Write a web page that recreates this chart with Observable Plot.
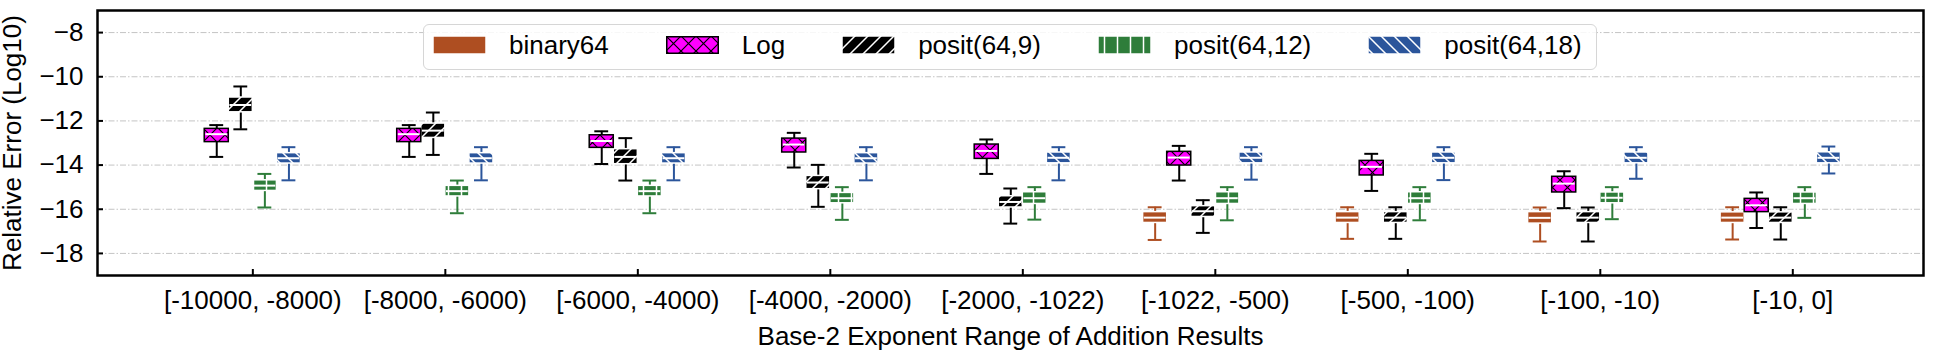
<!DOCTYPE html>
<html><head><meta charset="utf-8">
<script src="https://cdn.jsdelivr.net/npm/d3@7"></script>
<script src="https://cdn.jsdelivr.net/npm/@observablehq/plot@0.6"></script>
<style>
body{margin:0;background:#fff;font-family:"Liberation Sans",Arial,sans-serif}
#wrap{position:relative;width:1943px;height:353px}
#legend{position:absolute;left:423px;top:24px;width:1174px;height:46px;box-sizing:border-box;border:1px solid #d6d6d6;border-radius:6px;background:rgba(255,255,255,0.85);display:flex;align-items:flex-start;padding-left:9px}
.item{display:flex;align-items:flex-start;margin-right:57px}
.item svg{margin-top:11px;margin-right:23px}
.item span{font-size:26px;line-height:26px;margin-top:7px;color:#000;white-space:nowrap}
</style></head>
<body>
<svg width="0" height="0" style="position:absolute"><defs>
<pattern id="h-log" patternUnits="userSpaceOnUse" width="15" height="15"><rect width="15" height="15" fill="#ff00ff"/><path d="M0,0L15,15M15,0L0,15" stroke="#000" stroke-width="1.2"/></pattern>
<pattern id="h-p9" patternUnits="userSpaceOnUse" width="13" height="13"><rect width="13" height="13" fill="#000"/><path d="M-1,1L1,-1M0,13L13,0M12,14L14,12" stroke="#fff" stroke-width="1.5"/></pattern>
<pattern id="h-p12" patternUnits="userSpaceOnUse" width="13" height="13"><rect width="13" height="13" fill="#2e7d3a"/><path d="M6.5,0V13" stroke="#fff" stroke-width="1.5"/></pattern>
<pattern id="h-p18" patternUnits="userSpaceOnUse" width="13" height="13"><rect width="13" height="13" fill="#2b559b"/><path d="M-1,12L1,14M0,0L13,13M12,-1L14,1" stroke="#fff" stroke-width="1.5"/></pattern>
</defs></svg>
<div id="wrap"></div>
<script>
// ---- data ----
const categories = ["[-10000, -8000)", "[-8000, -6000)", "[-6000, -4000)", "[-4000, -2000)", "[-2000, -1022)", "[-1022, -500)", "[-500, -100)", "[-100, -10)", "[-10, 0]"];
const yTicks = [-18, -16, -14, -12, -10, -8];
const seriesNames = ["binary64", "Log", "posit(64,9)", "posit(64,12)", "posit(64,18)"];
// each entry: [lower whisker, Q1, median, Q3, upper whisker]
const binary64Stats = [null, null, null, null, null,
  [-17.39, -16.62, -16.38, -16.13, -15.91],
  [-17.34, -16.62, -16.38, -16.13, -15.91],
  [-17.46, -16.65, -16.39, -16.13, -15.92],
  [-17.37, -16.62, -16.38, -16.14, -15.91]];
const logStats = [
  [-13.63, -12.96, -12.60, -12.36, -12.19],
  [-13.63, -12.96, -12.60, -12.36, -12.19],
  [-13.95, -13.22, -12.91, -12.65, -12.47],
  [-14.11, -13.43, -13.07, -12.80, -12.54],
  [-14.40, -13.72, -13.36, -13.07, -12.84],
  [-14.70, -14.02, -13.66, -13.40, -13.13],
  [-15.17, -14.47, -14.08, -13.81, -13.49],
  [-15.95, -15.24, -14.84, -14.53, -14.28],
  [-16.85, -16.13, -15.82, -15.53, -15.24]];
const posit9Stats = [
  [-12.38, -11.61, -11.28, -10.94, -10.44],
  [-13.54, -12.77, -12.44, -12.12, -11.62],
  [-14.70, -13.96, -13.63, -13.28, -12.78],
  [-15.89, -15.09, -14.79, -14.49, -13.99],
  [-16.65, -15.92, -15.67, -15.41, -15.06],
  [-17.07, -16.35, -16.09, -15.86, -15.59],
  [-17.34, -16.62, -16.38, -16.13, -15.91],
  [-17.46, -16.62, -16.38, -16.13, -15.92],
  [-17.37, -16.62, -16.38, -16.14, -15.91]];
const posit12Stats = [
  [-15.92, -15.17, -14.93, -14.69, -14.40],
  [-16.18, -15.42, -15.18, -14.94, -14.70],
  [-16.18, -15.42, -15.18, -14.94, -14.70],
  [-16.48, -15.73, -15.50, -15.26, -15.00],
  [-16.47, -15.76, -15.50, -15.23, -15.00],
  [-16.50, -15.76, -15.50, -15.23, -15.00],
  [-16.50, -15.76, -15.50, -15.23, -15.00],
  [-16.45, -15.73, -15.48, -15.24, -15.00],
  [-16.39, -15.76, -15.50, -15.24, -15.00]];
const posit18Stats = [
  [-14.69, -13.93, -13.69, -13.46, -13.19],
  [-14.69, -13.93, -13.69, -13.46, -13.19],
  [-14.69, -13.93, -13.69, -13.46, -13.19],
  [-14.69, -13.93, -13.69, -13.46, -13.19],
  [-14.69, -13.92, -13.67, -13.43, -13.19],
  [-14.66, -13.92, -13.67, -13.43, -13.19],
  [-14.68, -13.92, -13.67, -13.43, -13.19],
  [-14.62, -13.92, -13.67, -13.43, -13.19],
  [-14.38, -13.92, -13.67, -13.42, -13.16]];

// ---- styles ----
const styles = [
  {fill: "#ae4e21", edge: "#fff", line: "#ae4e21", swatch: "#ae4e21"},
  {fill: "url(#h-log)", edge: "#000", line: "#000", swatch: "url(#h-log)"},
  {fill: "url(#h-p9)", edge: "#fff", line: "#000", swatch: "url(#h-p9)"},
  {fill: "url(#h-p12)", edge: "#fff", line: "#2e7d3a", swatch: "url(#h-p12)"},
  {fill: "url(#h-p18)", edge: "#fff", line: "#2b559b", swatch: "url(#h-p18)"}
];
const allStats = [binary64Stats, logStats, posit9Stats, posit12Stats, posit18Stats];
const step = 0.125, boxHalf = 0.0625, capHalf = 0.036;

const seriesRows = allStats.map((arr, si) => arr.map((v, ci) => v && {
  si, ci, pos: ci + (si - 2.5) * step, lo: v[0], q1: v[1], med: v[2], q3: v[3], hi: v[4]
}).filter(Boolean));

function seriesMarks(si) {
  const rows = seriesRows[si], st = styles[si];
  return [
    Plot.ruleX(rows, {x: "pos", y1: "lo", y2: "q1", stroke: st.line, strokeWidth: 2}),
    Plot.ruleX(rows, {x: "pos", y1: "q3", y2: "hi", stroke: st.line, strokeWidth: 2}),
    Plot.ruleY(rows, {y: "lo", x1: d => d.pos - capHalf, x2: d => d.pos + capHalf, stroke: st.line, strokeWidth: 2}),
    Plot.ruleY(rows, {y: "hi", x1: d => d.pos - capHalf, x2: d => d.pos + capHalf, stroke: st.line, strokeWidth: 2}),
    Plot.rect(rows, {x1: d => d.pos - boxHalf, x2: d => d.pos + boxHalf, y1: "q1", y2: "q3", fill: st.fill, stroke: st.edge, strokeWidth: 1.5}),
    Plot.ruleY(rows, {y: "med", x1: d => d.pos - boxHalf + 0.006, x2: d => d.pos + boxHalf - 0.006, stroke: "#fff", strokeWidth: 2})
  ];
}

const font = '"Liberation Sans", Arial, sans-serif';
const chart = Plot.plot({
  width: 1943, height: 353,
  marginLeft: 97, marginRight: 20, marginTop: 10, marginBottom: 78,
  x: {domain: [-0.807, 8.679]},
  y: {domain: [-19, -7]},
  style: {fontFamily: font, fontSize: "26px", color: "#000", background: "transparent", overflow: "visible"},
  marks: [
    Plot.ruleY(yTicks, {y: d => d, stroke: "#c4c4c4", strokeWidth: 1, strokeDasharray: "6,2,1.5,2"}),
    ...seriesMarks(0), ...seriesMarks(2), ...seriesMarks(3), ...seriesMarks(4), ...seriesMarks(1),
    Plot.axisY(yTicks, {tickSize: -6, strokeWidth: 2, tickFormat: () => "", label: null}),
    Plot.axisY(yTicks, {tickSize: 0, tickPadding: 14, fontSize: 26, label: null}),
    Plot.axisX(d3.range(categories.length), {tickSize: -6, strokeWidth: 2, tickFormat: () => "", label: null}),
    Plot.axisX(d3.range(categories.length), {tickSize: 0, tickPadding: 15, fontSize: 26, tickFormat: i => categories[i], label: null}),
    Plot.frame({stroke: "#000", strokeWidth: 2.5}),
    Plot.text(["Relative Error (Log10)"], {text: d => d, frameAnchor: "left", dx: -85, rotate: -90, textAnchor: "middle", lineAnchor: "middle", fontSize: 26}),
    Plot.text(["Base-2 Exponent Range of Addition Results"], {text: d => d, frameAnchor: "bottom", dy: 51, lineAnchor: "top", fontSize: 26})
  ]
});
const wrap = document.getElementById("wrap");
wrap.appendChild(chart);

// legend
const legend = document.createElement("div");
legend.id = "legend";
seriesNames.forEach((name, si) => {
  const item = document.createElement("div");
  item.className = "item";
  const st = styles[si];
  const stroke = si === 1 ? 'stroke="#000" stroke-width="1.5"' : 'stroke="none"';
  item.innerHTML = `<svg width="53" height="18"><rect x="0.75" y="0.75" width="51.5" height="16.5" fill="${st.swatch}" ${stroke}/></svg><span>${name}</span>`;
  legend.appendChild(item);
});
wrap.appendChild(legend);
</script>
</body></html>
